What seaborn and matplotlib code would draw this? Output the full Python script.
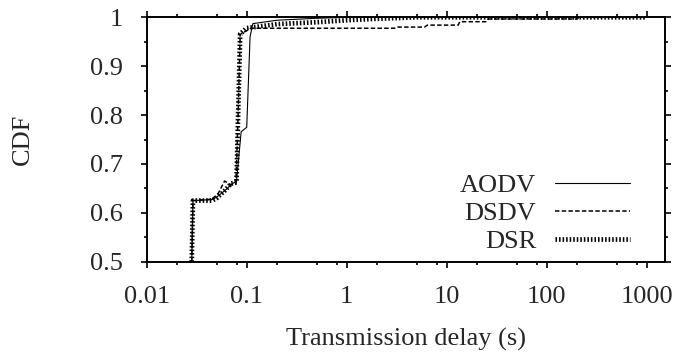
import numpy as np
import pandas as pd
import matplotlib
matplotlib.use("Agg")
import matplotlib.pyplot as plt
import matplotlib.ticker as mticker
import seaborn as sns

# --- data ---
aodv_x = [0.0282, 0.029, 0.045, 0.05, 0.06, 0.072, 0.079, 0.088, 0.1, 0.108, 0.115, 0.2, 0.5, 1.0, 1000.0]
aodv_y = [0.50, 0.625, 0.627, 0.632, 0.645, 0.660, 0.664, 0.766, 0.775, 0.96, 0.987, 0.994, 0.998, 1.0, 1.0]

dsdv_x = [0.0282, 0.029, 0.045, 0.052, 0.060, 0.070, 0.078, 0.082, 0.086, 0.11, 3.0, 3.2, 6.0, 6.4, 13.0, 13.5, 25.0, 26.0, 200.0, 210.0, 1000.0]
dsdv_y = [0.50, 0.625, 0.628, 0.640, 0.665, 0.657, 0.660, 0.80, 0.965, 0.9776, 0.9776, 0.980, 0.980, 0.984, 0.984, 0.991, 0.991, 0.9965, 0.9965, 1.0, 1.0]

dsr_x = [0.0282, 0.029, 0.045, 0.05, 0.06, 0.07, 0.079, 0.082, 0.086, 0.1, 0.2, 0.5, 1.0, 2.0, 5.0, 1000.0]
dsr_y = [0.50, 0.625, 0.625, 0.630, 0.645, 0.660, 0.662, 0.80, 0.966, 0.978, 0.986, 0.990, 0.994, 0.997, 1.0, 1.0]

series_names = ["AODV", "DSDV", "DSR"]
x_ticks = [0.01, 0.1, 1, 10, 100, 1000]
x_tick_labels = ["0.01", "0.1", "1", "10", "100", "1000"]
y_ticks = [0.5, 0.6, 0.7, 0.8, 0.9, 1.0]
y_tick_labels = ["0.5", "0.6", "0.7", "0.8", "0.9", "1"]

FS = 19

sns.set_style("ticks")
plt.rcParams["font.family"] = ["Liberation Serif", "DejaVu Serif"]
plt.rcParams["font.size"] = FS

fig = plt.figure(figsize=(6.82, 3.54), dpi=100)
ax = fig.add_axes([146.7 / 682, 1 - 261.7 / 354, (665 - 146.7) / 682, (261.7 - 17.3) / 354])

styles = {
    "AODV": dict(lw=0.8, linestyle="-"),
    "DSDV": dict(lw=1.1, linestyle=(0, (2.9, 1.5))),
    "DSR": dict(lw=3.4, linestyle=(0, (0.33, 0.42))),
}
data = {"AODV": (aodv_x, aodv_y), "DSDV": (dsdv_x, dsdv_y), "DSR": (dsr_x, dsr_y)}
for name in series_names:
    xs, ys = data[name]
    df = pd.DataFrame({"x": xs, "y": ys})
    sns.lineplot(data=df, x="x", y="y", ax=ax, color="black", sort=False,
                 estimator=None, label=name, **styles[name])

ax.set_xscale("log")
ax.set_xlim(0.01, 1520)
ax.set_ylim(0.5, 1.0)
ax.set_xticks(x_ticks)
ax.set_xticklabels(x_tick_labels)
ax.xaxis.set_minor_locator(mticker.LogLocator(base=10, subs=(2, 5, 8), numticks=20))
ax.xaxis.set_minor_formatter(mticker.NullFormatter())
ax.set_yticks(y_ticks)
ax.set_yticklabels(y_tick_labels)
ax.yaxis.set_minor_locator(mticker.MultipleLocator(0.05))

for s in ax.spines.values():
    s.set_visible(True)
    s.set_linewidth(1.4)
    s.set_color("black")
ax.tick_params(which="both", direction="out", top=True, right=True, color="black", width=1.2)
ax.tick_params(which="major", length=4.5)
ax.tick_params(which="minor", length=2.5)
ax.tick_params(axis="x", which="major", pad=13, labelsize=FS)
ax.tick_params(axis="y", which="major", pad=12.5, labelsize=FS)

ax.set_xlabel("Transmission delay (s)", fontsize=FS, va="center")
ax.xaxis.set_label_coords(0.5, (261.7 - 339) / 244.4)
ax.set_ylabel("CDF", fontsize=FS, va="center")
ax.yaxis.set_label_coords((23 - 146.7) / 518.3, 0.5)

leg = ax.legend(loc="lower right", bbox_to_anchor=((630 - 146.7) / 518.3, (261.7 - 253) / 244.4),
                frameon=False, markerfirst=False, handlelength=2.85, handletextpad=0.7,
                borderpad=0, borderaxespad=0, labelspacing=0.17, fontsize=FS)

fig.savefig("out.png", dpi=100)
